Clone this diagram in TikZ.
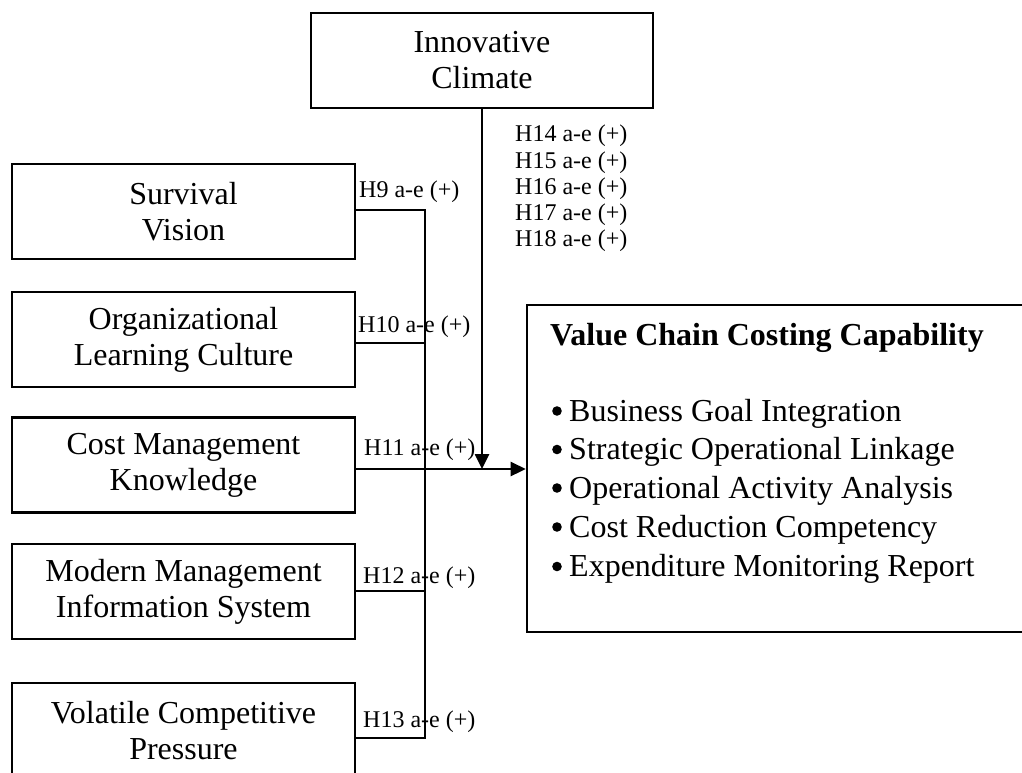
\documentclass[tikz,border=0pt]{standalone}
\usepackage{fontspec}
\setmainfont{Liberation Serif}
\usetikzlibrary{arrows.meta,calc}
\begin{document}
\begin{tikzpicture}[x=1pt,y=-1pt,
  box/.style={draw, line width=2.6pt, align=center, inner sep=0pt,
    minimum width=343pt, minimum height=95pt,
    font=\fontsize{32}{36}\selectfont},
  conn/.style={line width=2.6pt},
  arr/.style={conn, -{Triangle[length=15pt,width=14pt]}},
  hyp/.style={anchor=base west, inner sep=0pt, font=\fontsize{24}{26}\selectfont},
  item/.style={anchor=base west, inner sep=0pt, font=\fontsize{32}{39}\selectfont},
  dot/.style={fill=black}]
\useasboundingbox (0,0) rectangle (1022,773);
\clip (0,0) rectangle (1022,773);

% constructs
\node[box, minimum width=342pt] (ic) at (482,60.5) {Innovative\\Climate};
\node[box] (sv)   at (183.5,211.5) {Survival\\Vision};
\node[box] (olc)  at (183.5,339.5) {Organizational\\Learning Culture};
\node[box] (cmk)  at (183.5,465)   {Cost Management\\Knowledge};
\node[box] (mmis) at (183.5,591.5) {Modern Management\\Information System};
\node[box] (vcp)  at (183.5,730.5) {Volatile Competitive\\Pressure};
\node[box, minimum width=533pt, minimum height=327pt] (vcc) at (793.5,468.5) {};

% outcome construct and its dimensions
\node[item, font=\fontsize{32}{36}\selectfont\bfseries] (vtitle) at (550,345) {Value Chain Costing Capability};
\node[item] (d1) at (569,421)   {Business Goal Integration};
\node[item] (d2) at (569,459.5) {Strategic Operational Linkage};
\node[item] (d3) at (569,498)   {Operational Activity Analysis};
\node[item] (d4) at (569,537)   {Cost Reduction Competency};
\node[item] (d5) at (569,576.5) {Expenditure Monitoring Report};
\foreach \d in {d1,d2,d3,d4,d5}
  \fill[dot] ($(\d.base west)+(-12,-10)$) circle (4.8pt);

% collecting bus
\coordinate (b9)  at (425,210);
\coordinate (b10) at (425,343);
\coordinate (b11) at (425,469);
\coordinate (b12) at (425,591);
\coordinate (b13) at (425,738);

\draw[conn] (sv.east |- b9) -- (b9) -- (b13) -- (vcp.east |- b13);
\draw[conn] (olc.east |- b10) -- (b10);
\draw[conn] (mmis.east |- b12) -- (b12);
\draw[arr] (cmk.east |- b11) -- (vcc.west |- b11);
\draw[arr] (ic.south) -- (ic.south |- b11);

% hypothesis labels
\node[hyp] (h9)  at (359,197) {H9 a-e (+)};
\node[hyp] (h10) at (358,332) {H10 a-e (+)};
\node[hyp] (h11) at (364,455) {H11 a-e (+)};
\node[hyp] (h12) at (363,583) {H12 a-e (+)};
\node[hyp] (h13) at (363,727) {H13 a-e (+)};
\node[hyp] (h14) at (515,142) {H14 a-e (+)};
\node[hyp] (h15) at (515,168) {H15 a-e (+)};
\node[hyp] (h16) at (515,194) {H16 a-e (+)};
\node[hyp] (h17) at (515,220) {H17 a-e (+)};
\node[hyp] (h18) at (515,246) {H18 a-e (+)};
\end{tikzpicture}
\end{document}
